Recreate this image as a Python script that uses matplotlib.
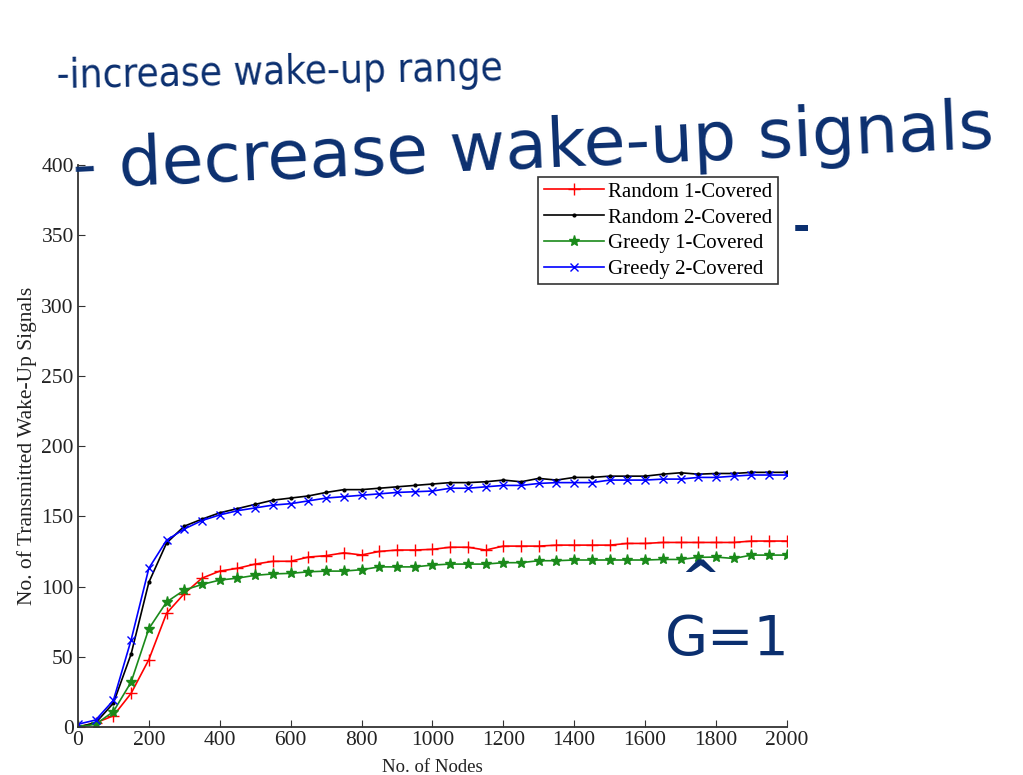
import matplotlib
matplotlib.use("Agg")
import matplotlib.pyplot as plt

plt.rcParams["font.family"] = ["Liberation Serif", "DejaVu Serif"]

nodes = list(range(0, 2001, 50))

random_1 = [0, 3, 8, 24, 48, 81, 95, 106, 111, 113, 116, 118, 118, 121, 122, 124, 122.5, 125, 126, 126,
            126.5, 128, 128, 126, 128.8, 128.8, 128.8, 129.5, 129.5, 129.5, 129.5, 130.7, 130.7, 131.4,
            131.4, 131.4, 131.4, 131.4, 132.4, 132.4, 132.4]
random_2 = [0, 3, 17, 52, 103, 131, 143, 148, 152.5, 155.5, 158.5, 161.5, 163, 164.5, 167, 169, 169, 170, 171, 172,
            173, 174, 174, 174.6, 175.8, 174.6, 177, 175.8, 177.7, 177.7, 178.6, 178.6, 178.6, 180,
            181, 180, 180.5, 180.5, 181.3, 181.3, 181.3]
greedy_1 = [0, 2, 11, 32, 70, 89, 97.5, 101.5, 104.6, 106, 108, 109, 109.4, 110.5, 111, 111, 112, 114, 114, 114,
            115.3, 116, 116, 116, 117, 117, 118.4, 118.4, 118.9, 118.9, 118.9, 118.9, 118.9, 119.3,
            119.3, 120.8, 121, 120, 122.4, 122.4, 122.4]
greedy_2 = [2, 5, 19, 62, 113, 133, 141, 147, 151, 154, 156, 158, 159, 161, 163, 164, 165, 166, 167, 167.5,
            168, 170, 170, 171, 172, 172, 173.4, 174, 174, 174, 175.8, 175.8, 175.8, 176.5,
            176.5, 177.7, 177.7, 178.6, 179.4, 179.4, 179.4]

ink = "#0b2f6f"
hand = "DejaVu Sans"

fig = plt.figure(figsize=(10.23, 7.75), dpi=100)
ax = fig.add_axes([0.0762, 0.0619, 0.693, 0.725])

ax.plot(nodes, random_1, color="red", marker="+", markersize=9, lw=1.2, label="Random 1-Covered")
ax.plot(nodes, random_2, color="black", marker=".", markersize=4, lw=1.2, label="Random 2-Covered")
ax.plot(nodes, greedy_1, color="#1a8a1a", marker="*", markersize=8, lw=1.2, label="Greedy 1-Covered")
ax.plot(nodes, greedy_2, color="blue", marker="x", markersize=6, lw=1.2, label="Greedy 2-Covered")

ax.set_xlim(0, 2000)
ax.set_ylim(0, 400)
ax.set_xticks(range(0, 2001, 200))
ax.set_yticks(range(0, 401, 50))
ax.tick_params(direction="in", labelsize=15.5, length=5, color="#333333", labelcolor="#222222", pad=3)
ax.spines["top"].set_visible(False)
ax.spines["right"].set_visible(False)
for s in ("left", "bottom"):
    ax.spines[s].set_color("#333333")
    ax.spines[s].set_linewidth(1.3)
ax.set_xlabel("No. of Nodes", fontsize=13.5, labelpad=6, color="#222222")
ax.set_ylabel("No. of Transmitted Wake-Up Signals", fontsize=15.5, labelpad=3, color="#222222")

leg = ax.legend(loc="upper right", bbox_to_anchor=(0.987, 0.979), fontsize=15, frameon=True,
                fancybox=False, edgecolor="black", borderpad=0.25, labelspacing=0.3,
                handlelength=2.9, handletextpad=0.2, borderaxespad=0)
leg.get_frame().set_linewidth(1.2)

# handwritten notes
fig.text(0.055, 0.887, "-increase wake-up range", fontsize=29, color=ink, family=hand,
         fontstretch="condensed", rotation=1)
fig.text(0.07, 0.757, "- decrease wake-up signals", fontsize=49, color=ink, family=hand, rotation=2.5)
fig.text(0.775, 0.69, "-", fontsize=30, color=ink, family=hand, fontweight="bold")
fig.text(0.665, 0.235, "^", fontsize=34, color=ink, family=hand, fontweight="bold")
fig.text(0.65, 0.155, "G=1", fontsize=40, color=ink, family=hand)

fig.savefig("out.png", dpi=100)
